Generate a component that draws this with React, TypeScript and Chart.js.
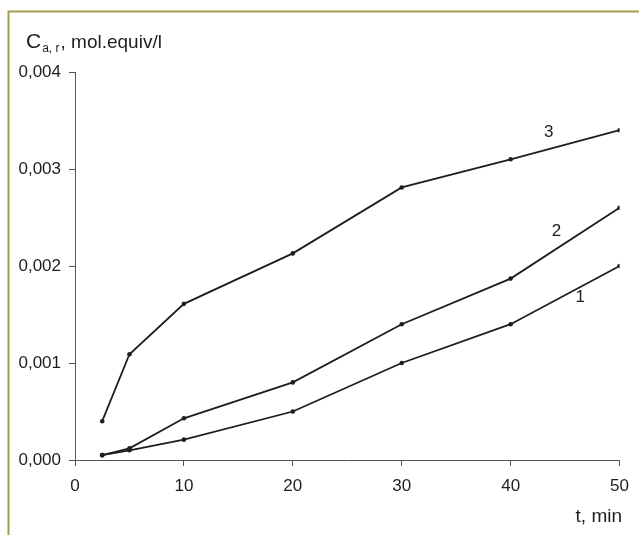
import React, { useEffect, useRef } from "react";
import { Chart, registerables } from "chart.js";

Chart.register(...registerables);

const T_MIN = [2.5, 5, 10, 20, 30, 40, 50];
const SERIES_1 = [0.00005, 0.0001, 0.00021, 0.0005, 0.001, 0.0014, 0.002];
const SERIES_2 = [0.00005, 0.00012, 0.00043, 0.0008, 0.0014, 0.00187, 0.0026];
const SERIES_3 = [0.0004, 0.00109, 0.00161, 0.00213, 0.00281, 0.0031, 0.0034];
const SERIES_LABELS = ["1", "2", "3"];
const X_TICKS = [0, 10, 20, 30, 40, 50];
const Y_TICKS = [0, 0.001, 0.002, 0.003, 0.004];

const FONT = "'Liberation Sans', Arial, sans-serif";
const INK = "#1e1e1e";
const AXIS = "#555555";
const FRAME = "#a3a050";

const W = 639;
const H = 535;

const annotations = {
  id: "annotations",
  beforeDraw(chart: any) {
    const ctx = chart.ctx;
    ctx.save();
    ctx.fillStyle = "#ffffff";
    ctx.fillRect(0, 0, chart.width, chart.height);
    ctx.strokeStyle = FRAME;
    ctx.lineWidth = 2;
    ctx.beginPath();
    ctx.moveTo(8.5, H);
    ctx.lineTo(8.5, 11.5);
    ctx.lineTo(W, 11.5);
    ctx.stroke();
    ctx.restore();
  },
  afterDraw(chart: any) {
    const ctx = chart.ctx;
    ctx.save();
    ctx.fillStyle = INK;
    ctx.textBaseline = "alphabetic";
    let x = 26;
    ctx.textAlign = "left";
    ctx.font = `21px ${FONT}`;
    ctx.fillText("C", x, 48);
    x += ctx.measureText("C").width + 1;
    ctx.font = `12px ${FONT}`;
    ctx.fillText("a, r", x, 52);
    x += ctx.measureText("a, r").width + 1;
    ctx.font = `19px ${FONT}`;
    ctx.fillText(", mol.equiv/l", x, 48);
    ctx.textAlign = "right";
    ctx.fillText("t, min", 622, 522);
    ctx.textAlign = "center";
    ctx.textBaseline = "middle";
    ctx.font = `17px ${FONT}`;
    const xs = chart.scales.x;
    const ys = chart.scales.y;
    const pos = [
      [46.4, 0.00168],
      [44.2, 0.00236],
      [43.5, 0.00338],
    ];
    SERIES_LABELS.forEach((lab, i) => {
      ctx.fillText(lab, xs.getPixelForValue(pos[i][0]), ys.getPixelForValue(pos[i][1]));
    });
    ctx.restore();
  },
};

export default function App() {
  const ref = useRef<HTMLCanvasElement | null>(null);
  useEffect(() => {
    if (!ref.current) return;
    const mk = (vals: number[], label: string) => ({
      label,
      data: T_MIN.map((t, i) => ({ x: t, y: vals[i] })),
      borderColor: INK,
      backgroundColor: INK,
      borderWidth: 1.8,
      pointRadius: 2.3,
      pointBorderWidth: 0,
      pointBackgroundColor: INK,
      tension: 0,
      fill: false,
    });
    const chart = new Chart(ref.current, {
      type: "line",
      data: {
        datasets: [mk(SERIES_1, SERIES_LABELS[0]), mk(SERIES_2, SERIES_LABELS[1]), mk(SERIES_3, SERIES_LABELS[2])],
      },
      options: {
        responsive: false,
        animation: false,
        devicePixelRatio: 1,
        layout: { padding: { left: 0, right: 16, top: 72, bottom: 0 } },
        plugins: { legend: { display: false }, tooltip: { enabled: false } },
        scales: {
          x: {
            type: "linear",
            min: 0,
            max: 50,
            afterFit: (s: any) => {
              s.height = 75;
            },
            afterBuildTicks: (s: any) => {
              s.ticks = X_TICKS.map((v) => ({ value: v }));
            },
            ticks: {
              color: INK,
              font: { family: FONT, size: 17 },
              padding: 10,
              maxRotation: 0,
              callback: (v: any) => String(v),
            },
            grid: { drawOnChartArea: false, drawTicks: true, tickLength: 6, color: AXIS, lineWidth: 1 },
            border: { display: true, color: AXIS, width: 1 },
          },
          y: {
            type: "linear",
            min: 0,
            max: 0.004,
            afterFit: (s: any) => {
              s.width = 75;
            },
            afterBuildTicks: (s: any) => {
              s.ticks = Y_TICKS.map((v) => ({ value: v }));
            },
            ticks: {
              color: INK,
              font: { family: FONT, size: 17 },
              padding: 8,
              callback: (v: any) => Number(v).toFixed(3).replace(".", ","),
            },
            grid: { drawOnChartArea: false, drawTicks: true, tickLength: 6, color: AXIS, lineWidth: 1 },
            border: { display: true, color: AXIS, width: 1 },
          },
        },
      },
      plugins: [annotations],
    });
    return () => chart.destroy();
  }, []);
  return (
    <div style={{ position: "absolute", left: 0, top: 0, width: W, height: H, background: "#fff" }}>
      <canvas ref={ref} width={W} height={H} style={{ display: "block", width: W, height: H }} />
    </div>
  );
}
